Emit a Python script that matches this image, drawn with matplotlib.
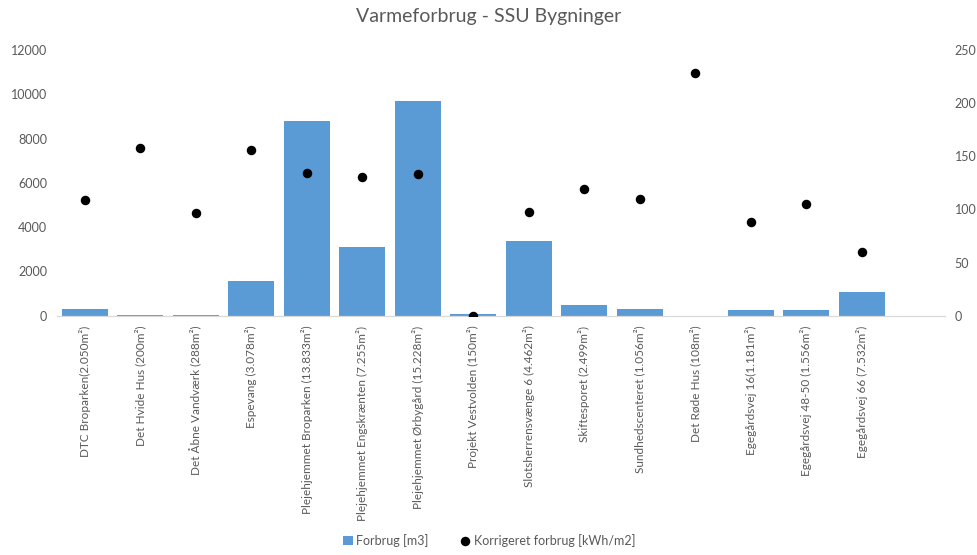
import numpy as np
import matplotlib
matplotlib.use("Agg")
import matplotlib.pyplot as plt

# ---------------------------------------------------------------------------
# Data
# ---------------------------------------------------------------------------
buildings = [
    "DTC Broparken(2.050m²)",
    "Det Hvide Hus (200m²)",
    "Det Åbne Vandværk (288m²)",
    "Espevang (3.078m²)",
    "Plejehjemmet Broparken (13.833m²)",
    "Plejehjemmet Engskrænten (7.255m²)",
    "Plejehjemmet Ørbygård (15.228m²)",
    "Projekt Vestvolden (150m²)",
    "Slotsherrensvænge 6 (4.462m²)",
    "Skiftesporet (2.499m²)",
    "Sundhedscenteret (1.056m²)",
    "Det Røde Hus (108m²)",
    "Egegårdsvej 16(1.181m²)",
    "Egegårdsvej 48-50 (1.556m²)",
    "Egegårdsvej 66 (7.532m²)",
    "",
]
forbrug_m3 = [300, 45, 45, 1580, 8790, 3100, 9680, 100,
              3370, 480, 310, 0, 250, 280, 1080, np.nan]
korrigeret_kwh_m2 = [109, 157.5, 97, 155.5, 134, 130.5, 133.5, 0,
                     97.5, 119, 109.5, 228.5, 88.5, 105, 60, np.nan]

left_ticks = [0, 2000, 4000, 6000, 8000, 10000, 12000]
right_ticks = [0, 50, 100, 150, 200, 250]

BLUE = "#5B9BD5"
GREY = "#595959"

plt.rcParams["font.family"] = ["Lato", "DejaVu Sans"]

fig = plt.figure(figsize=(9.78, 5.55), dpi=100)
ax = fig.add_axes([0.0583, 0.431, 0.908, 0.479])
ax2 = ax.twinx()

x = np.arange(len(buildings))
ax.bar(x, forbrug_m3, width=0.83, color=BLUE, label="Forbrug [m3]", zorder=2)
ax2.scatter(x, korrigeret_kwh_m2, s=34, color="black", zorder=3,
            label="Korrigeret forbrug [kWh/m2]")

ax.set_xlim(-0.5, len(buildings) - 0.5)
ax.set_ylim(0, 12000)
ax2.set_ylim(0, 250)
ax.set_yticks(left_ticks)
ax2.set_yticks(right_ticks)
ax.set_xticks(x)
ax.set_xticklabels(buildings, rotation=90, fontsize=8.5, color=GREY)

for a in (ax, ax2):
    for side in ("top", "left", "right"):
        a.spines[side].set_visible(False)
    a.spines["bottom"].set_color("#D9D9D9")
    a.tick_params(axis="y", length=0, labelsize=9, labelcolor=GREY)
ax.tick_params(axis="x", length=0, pad=7)
ax.tick_params(axis="y", pad=7)
ax2.tick_params(axis="y", pad=7)

fig.suptitle("Varmeforbrug - SSU Bygninger", x=0.5, y=0.985,
             fontsize=14, color=GREY)

h1, l1 = ax.get_legend_handles_labels()
h2, l2 = ax2.get_legend_handles_labels()
fig.legend(h1 + h2, l1 + l2, loc="lower center", bbox_to_anchor=(0.5, -0.005),
           ncol=2, frameon=False, fontsize=9, labelcolor=GREY,
           handlelength=0.8, handletextpad=0.3, columnspacing=2.5)

fig.savefig("out.png", dpi=100)
